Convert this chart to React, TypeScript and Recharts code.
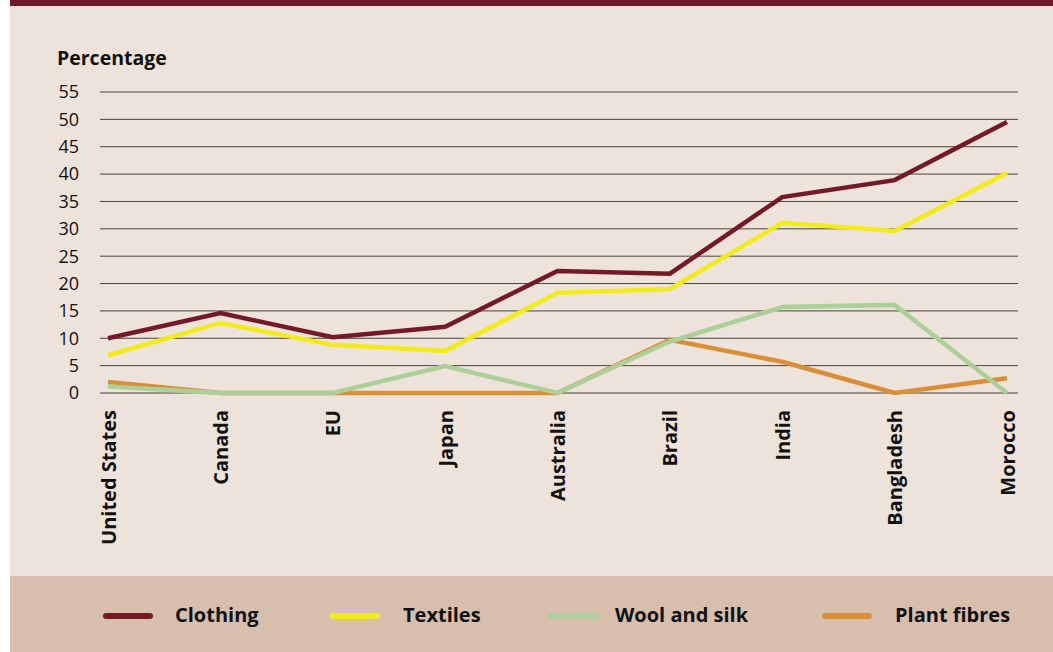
import { CartesianGrid, Line, LineChart, XAxis, YAxis } from 'recharts';

const COUNTRIES = ['United States', 'Canada', 'EU', 'Japan', 'Australia', 'Brazil', 'India', 'Bangladesh', 'Morocco'];
const CLOTHING = [10, 14.6, 10.2, 12.1, 22.3, 21.8, 35.8, 38.9, 49.5];
const TEXTILES = [6.9, 12.8, 8.8, 7.7, 18.3, 19.0, 31.1, 29.6, 40.2];
const WOOL_SILK = [1.2, 0, 0, 4.9, 0, 9.4, 15.7, 16.1, 0];
const PLANT_FIBRES = [2.0, 0, 0, 0, 0, 9.7, 5.7, 0, 2.7];
const Y_TICKS = [0, 5, 10, 15, 20, 25, 30, 35, 40, 45, 50, 55];

const SERIES = [
  { key: 'clothing', name: 'Clothing', color: '#731a26' },
  { key: 'textiles', name: 'Textiles', color: '#f2eb1b' },
  { key: 'wool', name: 'Wool and silk', color: '#add09b' },
  { key: 'plant', name: 'Plant fibres', color: '#d98f38' },
];

const FONT = '"Open Sans", "Liberation Sans", sans-serif';

const data = COUNTRIES.map((name, i) => ({
  name,
  clothing: CLOTHING[i],
  textiles: TEXTILES[i],
  wool: WOOL_SILK[i],
  plant: PLANT_FIBRES[i],
}));

function CountryTick({ x, y, payload }: { x?: number; y?: number; payload?: { value: string } }) {
  return (
    <text
      x={x}
      y={y}
      transform={`rotate(-90, ${x}, ${y})`}
      textAnchor="end"
      dominantBaseline="central"
      fontSize={20}
      fontWeight={700}
      fill="#111"
      fontFamily={FONT}
    >
      {payload?.value}
    </text>
  );
}

export default function App() {
  // draw order: plant fibres under wool, wool under the rest
  const drawOrder = [SERIES[3], SERIES[2], SERIES[1], SERIES[0]];
  return (
    <div style={{ position: 'absolute', left: 0, top: 0, width: 1053, height: 652, background: '#fff', fontFamily: FONT }}>
      <div style={{ position: 'absolute', left: 10, top: 0, width: 1043, height: 6, background: '#6e1a24' }} />
      <div style={{ position: 'absolute', left: 10, top: 6, width: 1043, height: 570, background: '#eee3da' }} />
      <div style={{ position: 'absolute', left: 10, top: 576, width: 1043, height: 76, background: '#d8bead' }} />
      <div style={{ position: 'absolute', left: 57, top: 44, fontSize: 19.5, fontWeight: 700, color: '#111', lineHeight: '28px' }}>
        Percentage
      </div>
      <div style={{ position: 'absolute', left: 0, top: 0 }}>
        <LineChart width={1053} height={560} data={data} margin={{ top: 92, right: 35, left: 0, bottom: 7 }}>
          <CartesianGrid horizontal vertical={false} stroke="#4a4442" strokeWidth={1} />
          <XAxis
            dataKey="name"
            interval={0}
            height={160}
            axisLine={false}
            tickLine={false}
            tickSize={0}
            tickMargin={17}
            padding={{ left: 8, right: 11 }}
            tick={<CountryTick />}
          />
          <YAxis
            width={100}
            domain={[0, 55]}
            ticks={Y_TICKS}
            axisLine={false}
            tickLine={false}
            tickSize={0}
            tickMargin={21}
            tick={{ fontSize: 18, fill: '#111', fontFamily: FONT }}
          />
          {drawOrder.map((s) => (
            <Line
              key={s.key}
              type="linear"
              dataKey={s.key}
              name={s.name}
              stroke={s.color}
              strokeWidth={4.5}
              dot={false}
              activeDot={false}
              isAnimationActive={false}
            />
          ))}
        </LineChart>
      </div>
      <div style={{ position: 'absolute', left: 0, top: 576, width: 1053, height: 76 }}>
        {SERIES.map((s, i) => {
          const lineX = [103, 330, 548, 822][i];
          const textX = [175, 403, 615, 895][i];
          return (
            <div key={s.key}>
              <div style={{ position: 'absolute', left: lineX, top: 37, width: 50, height: 6, borderRadius: 3, background: s.color }} />
              <div style={{ position: 'absolute', left: textX, top: 25, fontSize: 20, fontWeight: 700, color: '#111', lineHeight: '28px', whiteSpace: 'nowrap' }}>
                {s.name}
              </div>
            </div>
          );
        })}
      </div>
    </div>
  );
}
